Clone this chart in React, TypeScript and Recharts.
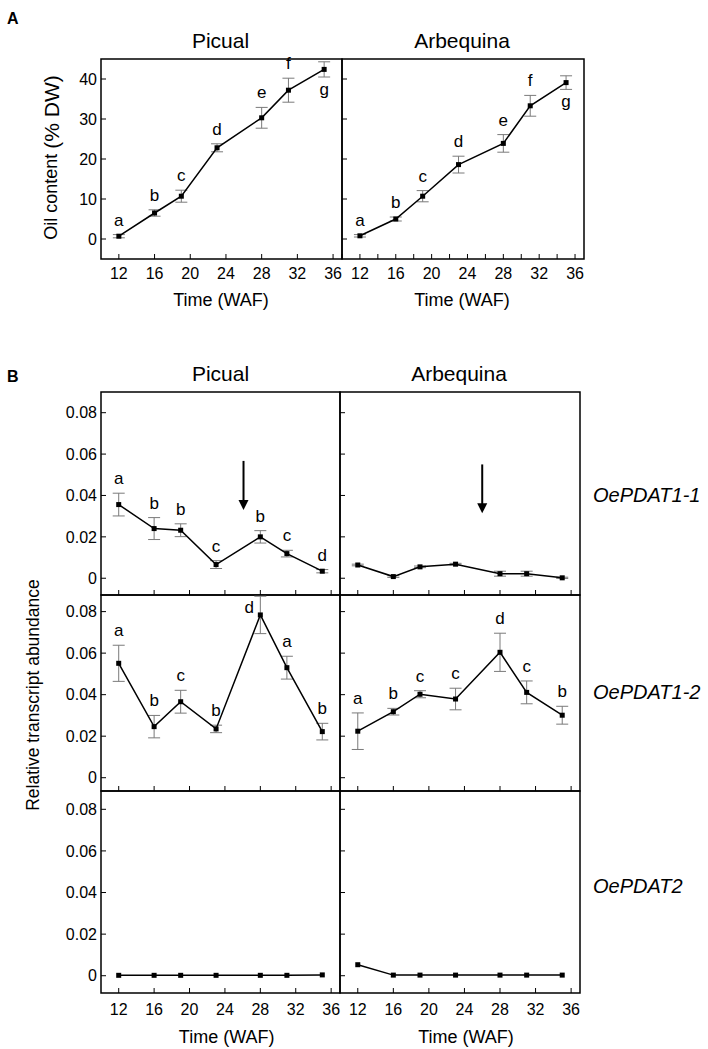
import { LineChart, Line, XAxis, YAxis, ErrorBar, LabelList, ReferenceArea, ReferenceLine, ReferenceDot } from 'recharts';

const FONT = '"Liberation Sans", Arial, Helvetica, sans-serif';

// sampling times (weeks after flowering)
const weeks = [12, 16, 19, 23, 28, 31, 35];

// A: oil content (% DW)
const oilPicual = [0.7, 6.5, 10.7, 22.8, 30.3, 37.2, 42.4];
const oilPicualErr = [0.4, 0.8, 1.5, 1.0, 2.6, 3.0, 1.9];
const oilArbequina = [0.8, 5.0, 10.7, 18.6, 23.9, 33.3, 39.1];
const oilArbequinaErr = [0.3, 0.5, 1.4, 2.1, 2.2, 2.6, 1.7];
const oilLetters = ['a', 'b', 'c', 'd', 'e', 'f', 'g'];
const oilPos = ['t', 't', 't', 't', 't', 't', 'b'];

// B: relative transcript abundance
const pdat11Picual = [0.0356, 0.024, 0.0232, 0.0066, 0.02, 0.0119, 0.0034];
const pdat11PicualErr = [0.0055, 0.0053, 0.0031, 0.0019, 0.003, 0.0016, 0.0008];
const pdat11PicualLetters = ['a', 'b', 'b', 'c', 'b', 'c', 'd'];
const pdat11Arbequina = [0.0064, 0.0008, 0.0055, 0.0068, 0.0022, 0.0022, 0.0002];
const pdat11ArbequinaErr = [0.0004, 0.0004, 0.0004, 0.0004, 0.0012, 0.0012, 0.0003];

const pdat12Picual = [0.0551, 0.0246, 0.0366, 0.0235, 0.0784, 0.053, 0.0222];
const pdat12PicualErr = [0.0087, 0.0054, 0.0055, 0.0018, 0.009, 0.0055, 0.004];
const pdat12PicualLetters = ['a', 'b', 'c', 'b', 'd', 'a', 'b'];
const pdat12PicualPos = ['t', 't', 't', 't', 'l', 't', 't'];
const pdat12Arbequina = [0.0224, 0.0318, 0.0402, 0.0379, 0.0604, 0.0411, 0.0301];
const pdat12ArbequinaErr = [0.0088, 0.0016, 0.0017, 0.0052, 0.0092, 0.0055, 0.0043];
const pdat12ArbequinaLetters = ['a', 'b', 'c', 'c', 'd', 'c', 'b'];

const pdat2Picual = [0.0002, 0.0002, 0.0002, 0.0002, 0.0002, 0.0002, 0.0004];
const pdat2PicualErr = [0, 0, 0, 0, 0, 0, 0];
const pdat2Arbequina = [0.0053, 0.0003, 0.0003, 0.0003, 0.0003, 0.0003, 0.0003];
const pdat2ArbequinaErr = [0, 0, 0, 0, 0, 0, 0];

// arrows on OePDAT1-1 (week, top, tip)
const arrowPicual = { x: 26.1, top: 0.0567, tip: 0.033 };
const arrowArbequina = { x: 26.0, top: 0.055, tip: 0.0314 };

const oilTicks = [0, 10, 20, 30, 40];
const relTicks = [0, 0.02, 0.04, 0.06, 0.08];
const majorWeeks = [12, 16, 20, 24, 28, 32, 36];
const allWeeks = [10, 12, 14, 16, 18, 20, 22, 24, 26, 28, 30, 32, 34, 36];

type Row = { t: number; v: number; e: number; letter: string; pos: string; anchor: number };

function makeRows(v: number[], e: number[], letters?: string[], pos?: string[]): Row[] {
  return weeks.map((t, i) => {
    const p = pos ? pos[i] : 't';
    const anchor = p === 'b' ? v[i] - e[i] : p === 'l' ? v[i] : v[i] + e[i];
    return { t, v: v[i], e: e[i], letter: letters ? letters[i] : '', pos: p, anchor };
  });
}

const fmtRel = (v: number) => (v === 0 ? '0' : v.toFixed(2));
const fmtOil = (v: number) => String(v);

type PanelProps = {
  x: number;
  y: number;
  w: number;
  h: number;
  rows: Row[];
  yDomain: [number, number];
  yTicks: number[];
  xTicks: number[];
  yLabels: boolean;
  xLabels: boolean;
  xMargin: number;
  fmtY: (v: number) => string;
  arrow?: { x: number; top: number; tip: number };
};

const Square = (props: any) => {
  const { cx, cy, index } = props;
  if (cx == null || cy == null) return null;
  return <rect key={`sq-${index}`} x={cx - 2.5} y={cy - 2.5} width={5} height={5} fill="#000" />;
};

function Panel(p: PanelProps) {
  const PL = 60, PR = 6, PT = 6, PB = 32;
  const tickStyle = { fill: '#000', fontSize: 16, fontFamily: FONT };

  const renderLetter = (props: any) => {
    const { x, y, index } = props;
    const r = p.rows[index];
    if (!r || !r.letter || x == null || y == null) return null;
    let tx = x;
    let ty = y - 9;
    if (r.pos === 'b') ty = y + 18;
    if (r.pos === 'l') {
      tx = x - 11;
      ty = y - 2;
    }
    return (
      <text key={`lt-${index}`} x={tx} y={ty} textAnchor="middle" fontSize={17} fontFamily={FONT} fill="#000">
        {r.letter}
      </text>
    );
  };

  return (
    <div style={{ position: 'absolute', left: p.x - PL, top: p.y - PT }}>
      <LineChart
        width={p.w + PL + PR}
        height={p.h + PT + PB}
        data={p.rows}
        margin={{ top: PT, right: PR, bottom: 0, left: 0 }}
      >
        <XAxis
          type="number"
          dataKey="t"
          domain={[10, 37]}
          allowDataOverflow
          ticks={p.xTicks}
          interval={0}
          height={PB}
          axisLine={false}
          tickLine={{ stroke: '#000' }}
          tickSize={-5}
          tickMargin={p.xMargin}
          tick={tickStyle}
          tickFormatter={(v: number) => (p.xLabels && v % 4 === 0 && v >= 12 ? String(v) : '')}
        />
        <YAxis
          type="number"
          domain={p.yDomain}
          allowDataOverflow
          ticks={p.yTicks}
          interval={0}
          width={PL}
          axisLine={false}
          tickLine={{ stroke: '#000' }}
          tickSize={-5}
          tickMargin={9}
          tick={tickStyle}
          tickFormatter={(v: number) => (p.yLabels ? p.fmtY(v) : '')}
        />
        <ReferenceArea
          x1={10}
          x2={37}
          y1={p.yDomain[0]}
          y2={p.yDomain[1]}
          fill="none"
          fillOpacity={0}
          stroke="#000"
          strokeWidth={1.5}
          strokeOpacity={1}
          ifOverflow="visible"
        />
        {p.arrow && (
          <ReferenceLine
            segment={[
              { x: p.arrow.x, y: p.arrow.top },
              { x: p.arrow.x, y: p.arrow.tip + 0.002 },
            ]}
            stroke="#000"
            strokeWidth={2}
          />
        )}
        {p.arrow && (
          <ReferenceDot
            x={p.arrow.x}
            y={p.arrow.tip}
            r={0}
            shape={(s: any) => (
              <polygon points={`${s.cx - 5},${s.cy - 10} ${s.cx + 5},${s.cy - 10} ${s.cx},${s.cy}`} fill="#000" />
            )}
          />
        )}
        <Line
          type="linear"
          dataKey="v"
          stroke="#000"
          strokeWidth={1.5}
          dot={Square}
          activeDot={false}
          isAnimationActive={false}
        >
          <ErrorBar dataKey="e" width={6} stroke="#7a7a7a" strokeWidth={1} direction="y" />
        </Line>
        <Line
          type="linear"
          dataKey="anchor"
          stroke="none"
          dot={false}
          activeDot={false}
          isAnimationActive={false}
        >
          <LabelList dataKey="letter" content={renderLetter} />
        </Line>
      </LineChart>
    </div>
  );
}

// B rows: top, height, y-domain
const bRows = [
  { top: 392, h: 203, dom: [-0.0081, 0.09] as [number, number] },
  { top: 595, h: 196, dom: [-0.0064, 0.088] as [number, number] },
  { top: 791, h: 202, dom: [-0.0083, 0.0888] as [number, number] },
];

export default function App() {
  const bPicualX = 101, bArbX = 340, bPicualW = 239, bArbW = 240;
  return (
    <div style={{ position: 'absolute', left: 0, top: 0, width: 708, height: 1049, background: '#fff' }}>
      {/* A: oil content */}
      <Panel x={101} y={59} w={241} h={200} rows={makeRows(oilPicual, oilPicualErr, oilLetters, oilPos)}
        yDomain={[-5, 45]} yTicks={oilTicks} xTicks={majorWeeks} yLabels xLabels xMargin={14} fmtY={fmtOil} />
      <Panel x={342} y={59} w={242} h={200} rows={makeRows(oilArbequina, oilArbequinaErr, oilLetters, oilPos)}
        yDomain={[-5, 45]} yTicks={oilTicks} xTicks={allWeeks} yLabels={false} xLabels xMargin={14} fmtY={fmtOil} />

      {/* B: OePDAT1-1 */}
      <Panel x={bPicualX} y={bRows[0].top} w={bPicualW} h={bRows[0].h}
        rows={makeRows(pdat11Picual, pdat11PicualErr, pdat11PicualLetters)}
        yDomain={bRows[0].dom} yTicks={relTicks} xTicks={majorWeeks} yLabels xLabels={false} xMargin={16}
        fmtY={fmtRel} arrow={arrowPicual} />
      <Panel x={bArbX} y={bRows[0].top} w={bArbW} h={bRows[0].h}
        rows={makeRows(pdat11Arbequina, pdat11ArbequinaErr)}
        yDomain={bRows[0].dom} yTicks={relTicks} xTicks={majorWeeks} yLabels={false} xLabels={false} xMargin={16}
        fmtY={fmtRel} arrow={arrowArbequina} />

      {/* B: OePDAT1-2 */}
      <Panel x={bPicualX} y={bRows[1].top} w={bPicualW} h={bRows[1].h}
        rows={makeRows(pdat12Picual, pdat12PicualErr, pdat12PicualLetters, pdat12PicualPos)}
        yDomain={bRows[1].dom} yTicks={relTicks} xTicks={majorWeeks} yLabels xLabels={false} xMargin={16} fmtY={fmtRel} />
      <Panel x={bArbX} y={bRows[1].top} w={bArbW} h={bRows[1].h}
        rows={makeRows(pdat12Arbequina, pdat12ArbequinaErr, pdat12ArbequinaLetters)}
        yDomain={bRows[1].dom} yTicks={relTicks} xTicks={majorWeeks} yLabels={false} xLabels={false} xMargin={16} fmtY={fmtRel} />

      {/* B: OePDAT2 */}
      <Panel x={bPicualX} y={bRows[2].top} w={bPicualW} h={bRows[2].h}
        rows={makeRows(pdat2Picual, pdat2PicualErr)}
        yDomain={bRows[2].dom} yTicks={relTicks} xTicks={majorWeeks} yLabels xLabels xMargin={16} fmtY={fmtRel} />
      <Panel x={bArbX} y={bRows[2].top} w={bArbW} h={bRows[2].h}
        rows={makeRows(pdat2Arbequina, pdat2ArbequinaErr)}
        yDomain={bRows[2].dom} yTicks={relTicks} xTicks={majorWeeks} yLabels={false} xLabels xMargin={16} fmtY={fmtRel} />

      {/* titles, axis labels, gene names */}
      <svg width={708} height={1049} style={{ position: 'absolute', left: 0, top: 0, pointerEvents: 'none' }}>
        <g fontFamily={FONT} fill="#000">
          <text x={7} y={24} fontSize={16} fontWeight="bold">A</text>
          <text x={7} y={382} fontSize={16} fontWeight="bold">B</text>

          <text x={220.5} y={48} fontSize={21} textAnchor="middle">Picual</text>
          <text x={462} y={48} fontSize={21} textAnchor="middle">Arbequina</text>
          <text x={220.5} y={381} fontSize={21} textAnchor="middle">Picual</text>
          <text x={459} y={381} fontSize={21} textAnchor="middle">Arbequina</text>

          <text transform="translate(51,157.5) rotate(-90)" textAnchor="middle" dominantBaseline="central">
            <tspan fontSize={18}>Oil content </tspan>
            <tspan fontSize={21}>(% DW)</tspan>
          </text>
          <text x={221} y={300} fontSize={18} textAnchor="middle" dominantBaseline="central">Time (WAF)</text>
          <text x={462} y={300} fontSize={18} textAnchor="middle" dominantBaseline="central">Time (WAF)</text>

          <text transform="translate(33,695) rotate(-90)" fontSize={17.5} textAnchor="middle" dominantBaseline="central">
            Relative transcript abundance
          </text>
          <text x={226.7} y={1036.7} fontSize={18} textAnchor="middle" dominantBaseline="central">Time (WAF)</text>
          <text x={466} y={1036.7} fontSize={18} textAnchor="middle" dominantBaseline="central">Time (WAF)</text>

          <text x={593} y={502} fontSize={20} fontStyle="italic">OePDAT1-1</text>
          <text x={593} y={699} fontSize={20} fontStyle="italic">OePDAT1-2</text>
          <text x={593} y={893} fontSize={20} fontStyle="italic">OePDAT2</text>
        </g>
      </svg>
    </div>
  );
}
